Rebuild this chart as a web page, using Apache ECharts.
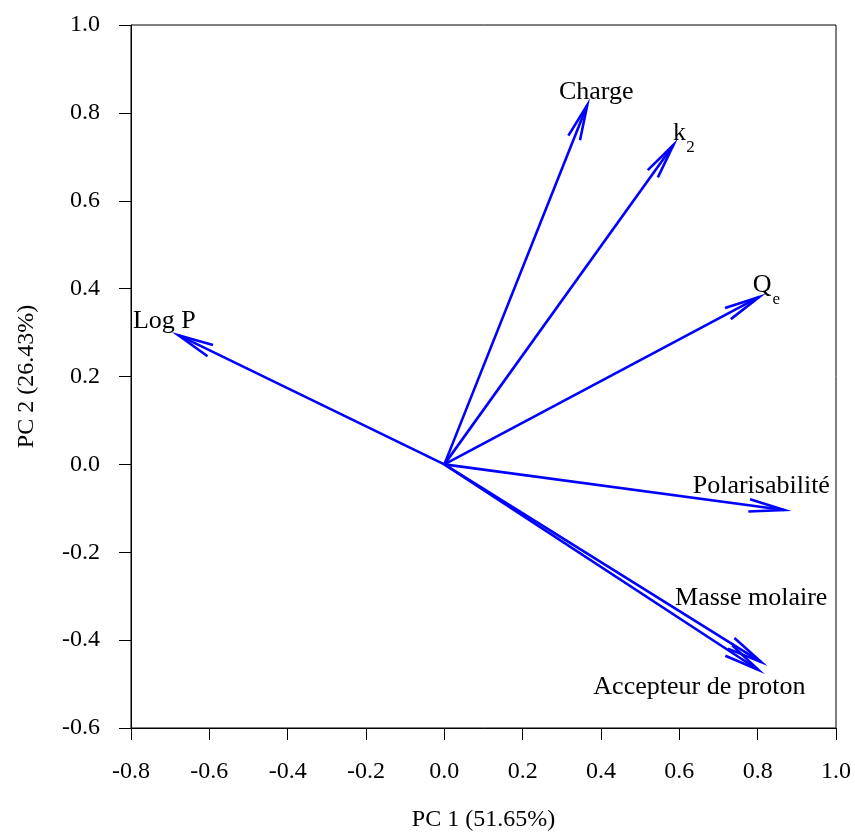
<!DOCTYPE html>
<html>
<head>
<meta charset="utf-8">
<script src="https://cdn.jsdelivr.net/npm/echarts@6/dist/echarts.min.js"></script>
<style>html,body{margin:0;padding:0;background:#fff}#c{width:855px;height:834px}</style>
</head>
<body>
<div id="c"></div>
<script>
// Variable names (main text, subscript)
const varNames = ['Charge', 'k', 'Q', 'Log P', 'Polarisabilité', 'Masse molaire', 'Accepteur de proton'];
const varSubs  = ['', '2', 'e', '', '', '', ''];
// Loadings
const pc1 = [0.365, 0.585, 0.804, -0.679, 0.868, 0.809, 0.802];
const pc2 = [0.818, 0.727, 0.381, 0.294, -0.104, -0.450, -0.468];
// Axis ticks
const xTicks = [-0.8, -0.6, -0.4, -0.2, 0.0, 0.2, 0.4, 0.6, 0.8, 1.0];
const yTicks = [-0.6, -0.4, -0.2, 0.0, 0.2, 0.4, 0.6, 0.8, 1.0];

// label pixel offsets from arrow tip (style)
const labelOff = [[9,-13],[6,-12],[3,-12],[-14,-14],[-23,-24],[-10,-64],[-59,17]];
const subOff   = [[0,0],[17,3],[17,3],[0,0],[0,0],[0,0],[0,0]];

const FONT = '"Liberation Serif", "Times New Roman", serif';
const BLUE = '#0000ff';

const chart = echarts.init(document.getElementById('c'), null, {renderer: 'canvas'});
const data = pc1.map((v, i) => [v, pc2[i], i]);

function renderItem(params, api) {
  const i = api.value(2);
  const o = api.coord([0, 0]);
  const t = api.coord([api.value(0), api.value(1)]);
  const dx = t[0] - o[0], dy = t[1] - o[1];
  const L = Math.sqrt(dx*dx + dy*dy);
  const ux = -dx / L, uy = -dy / L;
  const head = 36, a = 10 * Math.PI / 180;
  const r = (ang) => [t[0] + head * (ux*Math.cos(ang) - uy*Math.sin(ang)),
                      t[1] + head * (ux*Math.sin(ang) + uy*Math.cos(ang))];
  const b1 = r(a), b2 = r(-a);
  const children = [
    {type: 'line', shape: {x1: o[0], y1: o[1], x2: t[0], y2: t[1]},
     style: {stroke: BLUE, lineWidth: 2.6}},
    {type: 'polyline', shape: {points: [b1, t, b2]},
     style: {stroke: BLUE, lineWidth: 2.6, fill: null, lineJoin: 'miter'}},
    {type: 'text', x: t[0] + labelOff[i][0], y: t[1] + labelOff[i][1],
     style: {text: varNames[i], fill: '#000', font: '26px ' + FONT,
             align: 'center', verticalAlign: 'middle'}}
  ];
  if (varSubs[i]) {
    children.push({type: 'text', x: t[0] + subOff[i][0], y: t[1] + subOff[i][1],
      style: {text: varSubs[i], fill: '#000', font: '17px ' + FONT,
              align: 'center', verticalAlign: 'middle'}});
  }
  return {type: 'group', children};
}

function axisCommon(margin) {
  return {
    interval: 0.2,
    axisLine: {show: true, onZero: false, lineStyle: {color: '#000', width: 1}},
    axisTick: {show: true, inside: false, length: 12, lineStyle: {color: '#000', width: 1}},
    splitLine: {show: false},
    axisLabel: {color: '#000', fontSize: 24, fontFamily: FONT, margin: margin,
                formatter: v => (Math.abs(v) < 1e-9 ? 0 : v).toFixed(1)},
    nameLocation: 'middle',
    nameTextStyle: {color: '#000', fontSize: 24, fontFamily: FONT}
  };
}

chart.setOption({
  animation: false,
  backgroundColor: '#fff',
  grid: {left: 131, right: 19, top: 25, bottom: 106, show: true,
         borderColor: '#000', borderWidth: 1, containLabel: false,
         outerBoundsMode: 'none'},
  xAxis: Object.assign(axisCommon(32), {
    type: 'value', min: xTicks[0], max: xTicks[xTicks.length - 1],
    name: 'PC 1 (51.65%)', nameGap: 80
  }),
  yAxis: Object.assign(axisCommon(31), {
    type: 'value', min: yTicks[0], max: yTicks[yTicks.length - 1],
    name: 'PC 2 (26.43%)', nameGap: 92
  }),
  series: [{
    type: 'custom',
    renderItem,
    data,
    clip: false,
    encode: {x: 0, y: 1}
  }]
});
</script>
</body>
</html>
